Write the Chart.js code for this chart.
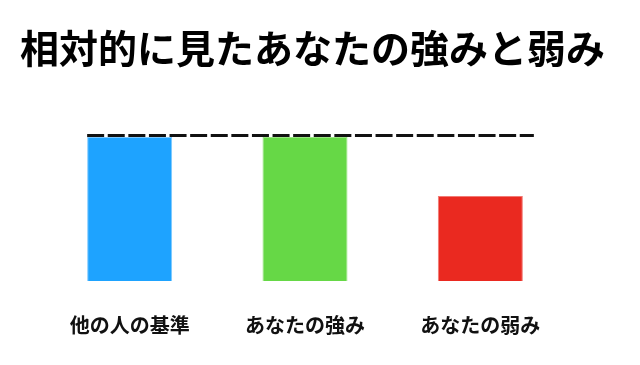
<!DOCTYPE html>
<html>
<head>
<meta charset="utf-8">
<script src="https://cdn.jsdelivr.net/npm/chart.js@4.4.1/dist/chart.umd.min.js"></script>
<style>
html,body{margin:0;padding:0;background:#fff;}
#wrap{width:640px;height:365px;}
</style>
</head>
<body>
<div id="wrap"><canvas id="c" width="640" height="365"></canvas></div>
<script>
const titleText = '相対的に見たあなたの強みと弱み';
const categories = ['他の人の基準', 'あなたの強み', 'あなたの弱み'];
const values = [100, 100, 59];
const benchmark = 101;
const barColors = ['#1ea3ff', '#66d846', '#ea2920'];
const barBorders = ['#7cc8ff', '#9ae482', '#f27a74'];

const FONT = '"Noto Sans CJK JP", "Noto Sans", sans-serif';

const dashLine = {
  id: 'dashLine',
  afterDatasetsDraw(chart) {
    const meta = chart.getDatasetMeta(0);
    const first = meta.data[0], last = meta.data[meta.data.length - 1];
    const y = chart.scales.y.getPixelForValue(benchmark);
    const x0 = first.x - first.width / 2;
    const x1 = last.x + last.width / 2 + 11;
    const ctx = chart.ctx;
    ctx.save();
    ctx.strokeStyle = '#111';
    ctx.lineWidth = 3;
    ctx.setLineDash([17, 3.6]);
    ctx.beginPath();
    ctx.moveTo(x0, y);
    ctx.lineTo(x1, y);
    ctx.stroke();
    ctx.restore();
  }
};

const hiddenAxis = (pos, w) => ({
  position: pos,
  grid: { display: false, drawTicks: false },
  border: { display: false },
  ticks: { display: false },
  afterFit(scale) { scale.width = w; }
});

new Chart(document.getElementById('c'), {
  type: 'bar',
  data: {
    labels: categories,
    datasets: [{
      data: values,
      backgroundColor: barColors,
      borderColor: barBorders,
      borderWidth: 1,
      barPercentage: 0.485,
      categoryPercentage: 1,
      yAxisID: 'y'
    }]
  },
  options: {
    responsive: false,
    animation: false,
    layout: { padding: { left: 8, right: 23, top: 0, bottom: 0 } },
    plugins: {
      legend: { display: false },
      tooltip: { enabled: false },
      title: {
        display: true,
        text: titleText,
        color: '#000',
        font: { family: FONT, size: 39, weight: 'bold' },
        padding: { top: 25.1, bottom: 38.1 }
      }
    },
    scales: {
      x: {
        grid: { display: false, drawTicks: false },
        border: { display: false },
        ticks: { color: '#111', font: { family: FONT, size: 20, weight: 'bold' }, padding: 32 },
        afterFit(scale) { scale.height = 84; }
      },
      y: Object.assign({ min: 0, max: 118.75 }, hiddenAxis('left', 34)),
      y2: Object.assign({ type: 'linear', min: 0, max: 118.75 }, hiddenAxis('right', 49))
    }
  },
  plugins: [dashLine]
});
</script>
</body>
</html>
